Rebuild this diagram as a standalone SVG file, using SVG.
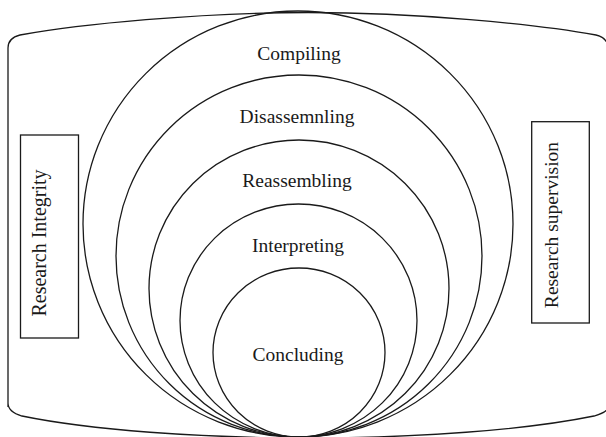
<svg xmlns="http://www.w3.org/2000/svg" width="606" height="437" viewBox="0 0 606 437">
<style>
.ln{fill:none;stroke:#1a1a1a;stroke-width:1.3}
.t{font-family:"Liberation Serif","Times New Roman",serif;font-size:19.5px;fill:#1a1a1a;text-anchor:middle}
</style>
<rect width="606" height="437" fill="#fff"/>
<g id="frame">
<path class="ln" d="M 8 407 L 8 48 Q 8 38 20 35 C 80 24 200 12.5 308 12.5 C 416 12.5 536 24 596 35 Q 608 38 608 48 L 608 407 Q 608 412 594 416 C 526 430 416 438 308 438 C 200 438 90 430 22 416 Q 8 412 8 403 Z"/>
</g>
<g id="compiling">
<ellipse class="ln" cx="298" cy="224" rx="215" ry="213"/>
<text class="t" x="299" y="59.5">Compiling</text>
</g>
<g id="disassembling">
<ellipse class="ln" cx="299" cy="256" rx="183" ry="181"/>
<text class="t" x="297" y="123.3">Disassemnling</text>
</g>
<g id="reassembling">
<ellipse class="ln" cx="299" cy="288.5" rx="150" ry="148.5"/>
<text class="t" x="297" y="187.3">Reassembling</text>
</g>
<g id="interpreting">
<ellipse class="ln" cx="298.5" cy="320.5" rx="118.5" ry="116.5"/>
<text class="t" x="298" y="251.7">Interpreting</text>
</g>
<g id="concluding">
<ellipse class="ln" cx="299" cy="352.5" rx="86" ry="84.5"/>
<text class="t" x="298" y="360.5">Concluding</text>
</g>
<g id="research-integrity">
<rect class="ln" x="20.5" y="135" width="58" height="203"/>
<text class="t" style="font-size:20px" transform="translate(46,243) rotate(-90)">Research Integrity</text>
</g>
<g id="research-supervision">
<rect class="ln" x="531.7" y="121.7" width="57.6" height="201.3"/>
<text class="t" transform="translate(558,225) rotate(-90)">Research supervision</text>
</g>
<g id="connectors"></g>
</svg>
